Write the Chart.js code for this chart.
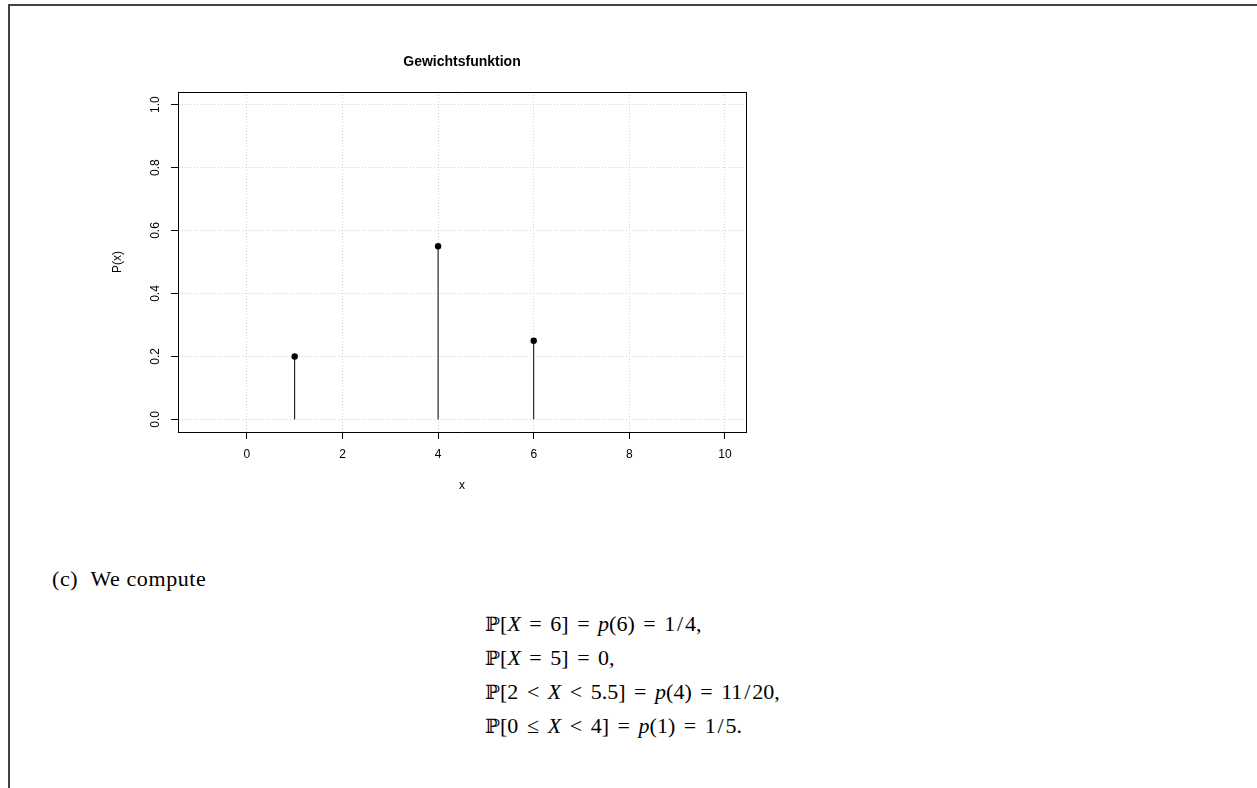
<!DOCTYPE html>
<html>
<head>
<meta charset="utf-8">
<script src="https://cdn.jsdelivr.net/npm/chart.js@4"></script>
<style>
    body { margin: 0; background: #fff; width: 1257px; height: 788px; overflow: hidden; position: relative; }
    #frame { position: absolute; left: 8px; top: 4px; width: 1400px; height: 900px;
             border-left: 2px solid #444; border-top: 2px solid #444; }
    #chart { position: absolute; left: 0; top: 0; }
    .tex { position: absolute; font-family: "Liberation Serif", "DejaVu Serif", serif; font-size: 22px; color: #000; white-space: nowrap; }
    .tex i { font-style: italic; }
    .bb { font-family: "DejaVu Serif", "DejaVu Sans", serif; font-size: 20px; }
    .rel { display: inline-block; width: 0.78em; text-align: center; margin: 0 0.28em; }
    .sl { display: inline-block; width: 0.45em; text-align: center; }
    #eqs { line-height: 33px; }
    #item { letter-spacing: 0.6px; }
</style>
</head>
<body>
<div id="frame"></div>
<canvas id="chart" width="800" height="520"></canvas>

<div class="tex" id="item" style="left:52px; top:566px;">(c)&nbsp;&nbsp;We compute</div>
<div class="tex" id="eqs" style="left:485px; top:607px;">
    <div><span class="bb">ℙ</span>[<i>X</i><span class="rel">=</span>6]<span class="rel">=</span><i>p</i>(6)<span class="rel">=</span>1<span class="sl">/</span>4,</div>
    <div><span class="bb">ℙ</span>[<i>X</i><span class="rel">=</span>5]<span class="rel">=</span>0,</div>
    <div><span class="bb">ℙ</span>[2<span class="rel">&lt;</span><i>X</i><span class="rel">&lt;</span>5.5]<span class="rel">=</span><i>p</i>(4)<span class="rel">=</span>11<span class="sl">/</span>20,</div>
    <div><span class="bb">ℙ</span>[0<span class="rel">≤</span><i>X</i><span class="rel">&lt;</span>4]<span class="rel">=</span><i>p</i>(1)<span class="rel">=</span>1<span class="sl">/</span>5.</div>
</div>

<script>
// values of the probability mass function
const xValues = [1, 4, 6];
const probs = [0.2, 0.55, 0.25];

// tick labels
const xTicks = [0, 2, 4, 6, 8, 10];
const yTicks = [0, 0.2, 0.4, 0.6, 0.8, 1.0];

// plot limits (R adds 4% on each side)
const xLim = [-1, 10];
const yLim = [0, 1];

function expand(lim) {
    const d = (lim[1] - lim[0]) * 0.04;
    return [lim[0] - d, lim[1] + d];
}

const xRange = expand(xLim);
const yRange = expand(yLim);

const sansFont = "'Liberation Sans', Arial, Helvetica, sans-serif";

// one vertical line per value, from 0 up to P(x)
const stemSets = xValues.map((x, i) => ({
    label: 'stem ' + x,
    data: [{ x: x, y: 0 }, { x: x, y: probs[i] }],
    showLine: true,
    borderColor: '#000',
    borderWidth: 1,
    pointRadius: 0,
    pointHoverRadius: 0
}));

const pointSet = {
    label: 'P(x)',
    data: xValues.map((x, i) => ({ x: x, y: probs[i] })),
    pointRadius: 3.2,
    pointBackgroundColor: '#000',
    pointBorderWidth: 0,
    order: -1
};

const ctx = document.getElementById('chart').getContext('2d');
const weightChart = new Chart(ctx, {
    type: 'scatter',
    data: {
        datasets: [...stemSets, pointSet]
    },
    options: {
        responsive: false,
        animation: false,
        devicePixelRatio: 1,
        layout: {
            padding: { left: 0, right: 54, top: 0, bottom: 18 }
        },
        plugins: {
            legend: { display: false },
            tooltip: { enabled: false },
            title: {
                display: true,
                text: 'Gewichtsfunktion',
                fullSize: false,
                color: '#000',
                font: { family: sansFont, size: 14, weight: 'bold' },
                padding: { top: 53.6, bottom: 21.6 }
            }
        },
        scales: {
            x: {
                type: 'linear',
                position: 'bottom',
                min: xRange[0],
                max: xRange[1],
                afterBuildTicks: (scale) => { scale.ticks = xTicks.map(v => ({ value: v })); },
                afterFit: (scale) => { scale.height = 70; },
                ticks: {
                    color: '#000',
                    padding: 8,
                    maxRotation: 0,
                    autoSkip: false,
                    font: { family: sansFont, size: 12 },
                    callback: (v) => String(v)
                },
                grid: {
                    color: '#d3d3d3',
                    lineWidth: 1,
                    tickLength: 7,
                    tickColor: '#000',
                    tickWidth: 1
                },
                border: { color: '#000', width: 1, dash: [1, 2] },
                title: {
                    display: true,
                    text: 'x',
                    color: '#000',
                    font: { family: sansFont, size: 12 },
                    padding: { top: 0, bottom: 8.8 }
                }
            },
            y: {
                type: 'linear',
                position: 'left',
                min: yRange[0],
                max: yRange[1],
                afterBuildTicks: (scale) => { scale.ticks = yTicks.map(v => ({ value: v })); },
                afterFit: (scale) => { scale.width = 178; },
                ticks: {
                    color: '#000',
                    padding: 7,
                    minRotation: 90,
                    maxRotation: 90,
                    crossAlign: 'center',
                    autoSkip: false,
                    font: { family: sansFont, size: 12 },
                    callback: (v) => v.toFixed(1)
                },
                grid: {
                    color: '#d3d3d3',
                    lineWidth: 1,
                    tickLength: 7,
                    tickColor: '#000',
                    tickWidth: 1
                },
                border: { color: '#000', width: 1, dash: [1, 2] },
                title: {
                    display: true,
                    text: 'P(x)',
                    color: '#000',
                    font: { family: sansFont, size: 12 },
                    padding: { top: 110.8, bottom: 0 }
                }
            },
            // top and right edges of the box
            x2: {
                type: 'linear',
                position: 'top',
                display: true,
                afterFit: (scale) => { scale.height = 0; },
                ticks: { display: false },
                grid: { drawOnChartArea: false, drawTicks: false },
                border: { color: '#000', width: 1 }
            },
            y2: {
                type: 'linear',
                position: 'right',
                display: true,
                afterFit: (scale) => { scale.width = 0; },
                ticks: { display: false },
                grid: { drawOnChartArea: false, drawTicks: false },
                border: { color: '#000', width: 1 }
            }
        }
    }
});
</script>
</body>
</html>
